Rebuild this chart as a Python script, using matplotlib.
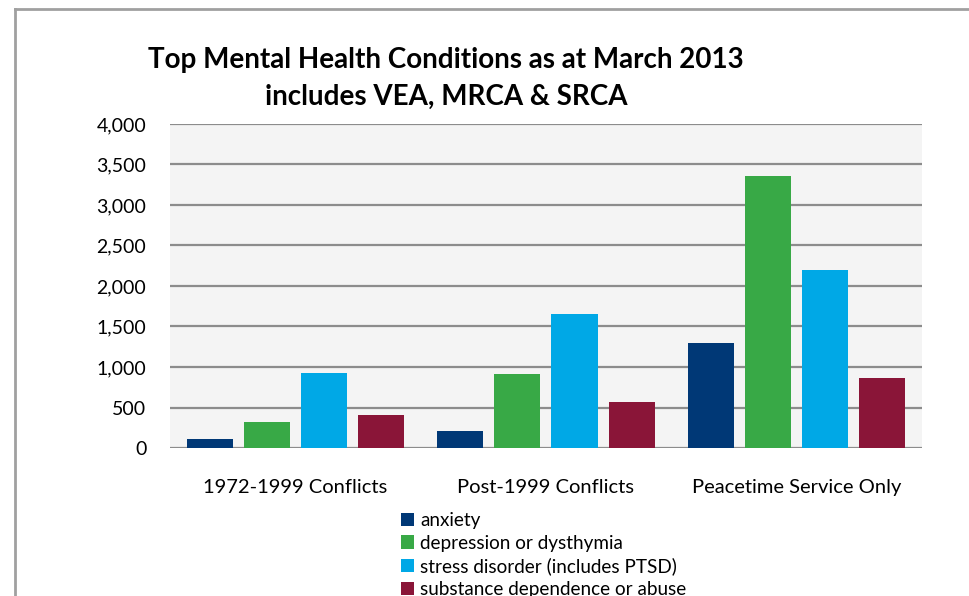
import numpy as np
import matplotlib.pyplot as plt
from matplotlib.lines import Line2D
from matplotlib.patches import Patch

plt.rcParams['font.family'] = ['Lato', 'DejaVu Sans']

# data
groups = ['1972-1999 Conflicts', 'Post-1999 Conflicts', 'Peacetime Service Only']
conditions = ['anxiety', 'depression or dysthymia',
              'stress disorder (includes PTSD)', 'substance dependence or abuse']
anxiety = [115, 210, 1300]
depression = [325, 915, 3355]
stress = [925, 1655, 2195]
substance = [405, 570, 860]
colors = ['#003876', '#38a946', '#00a8e6', '#8a1538']

series = [anxiety, depression, stress, substance]

fig = plt.figure(figsize=(9.69, 5.96), dpi=100)
ax = fig.add_axes([0.1754, 0.2483, 0.776, 0.5437])
ax.set_facecolor('#f4f4f4')

x = np.arange(len(groups))
width = 0.184
step = 0.228
for i, vals in enumerate(series):
    ax.bar(x + (i - 1.5) * step, vals, width, color=colors[i], zorder=3)

ax.set_xlim(-0.5, 2.5)
ax.set_ylim(0, 4000)
ax.set_yticks(np.arange(0, 4001, 500))
ax.set_yticklabels(['{:,}'.format(v) for v in range(0, 4001, 500)])
ax.set_xticks(x)
ax.set_xticklabels(groups)
ax.tick_params(axis='y', length=0, pad=17, labelsize=14)
ax.tick_params(axis='x', length=0, pad=22, labelsize=14.5)
ax.grid(axis='y', color='#8c8c8c', linewidth=1.6, zorder=1)
for s in ax.spines.values():
    s.set_visible(False)

# title, two lines
fig.text(446 / 969, 1 - 60 / 596, 'Top Mental Health Conditions as at March 2013',
         ha='center', va='center', fontsize=20, fontweight='bold')
fig.text(446 / 969, 1 - 97 / 596, 'includes VEA, MRCA & SRCA',
         ha='center', va='center', fontsize=20, fontweight='bold')

handles = [Patch(facecolor=c) for c in colors]
fig.legend(handles, conditions, loc='upper left', bbox_to_anchor=(0.414, 1 - 512 / 596),
           frameon=False, fontsize=13.6, handlelength=0.7, handleheight=0.7,
           handletextpad=0.3, labelspacing=0.3, borderpad=0, borderaxespad=0)

# outer frame (top and left edges visible)
fig.add_artist(Line2D([15 / 969, 1], [1 - 9 / 596, 1 - 9 / 596], transform=fig.transFigure,
                      color='#a0a0a0', linewidth=2))
fig.add_artist(Line2D([15 / 969, 15 / 969], [0, 1 - 9 / 596], transform=fig.transFigure,
                      color='#a0a0a0', linewidth=2))

fig.savefig('out.png', dpi=100)
